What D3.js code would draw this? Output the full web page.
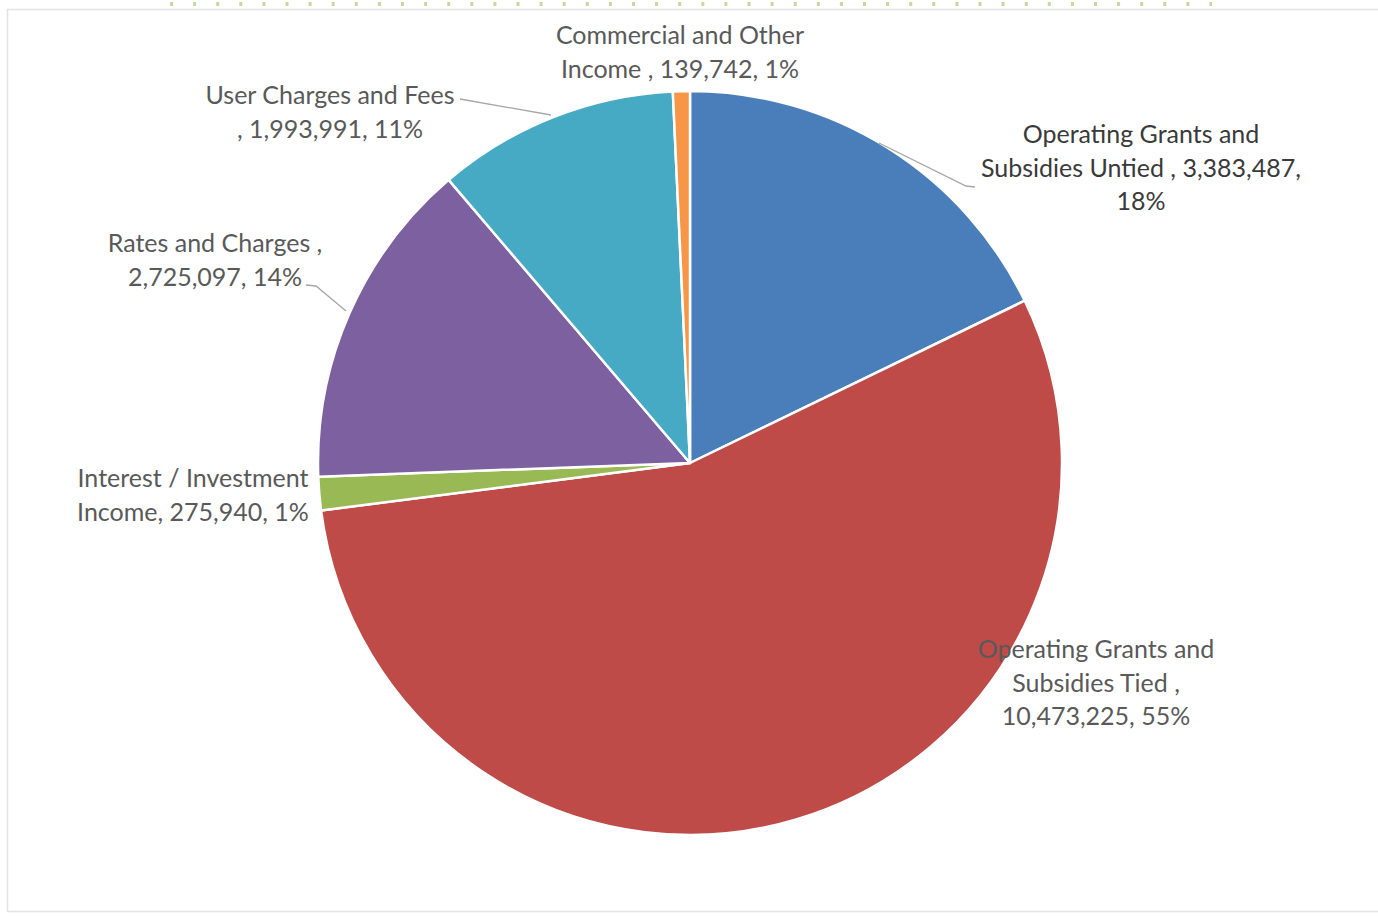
<!DOCTYPE html>
<html><head><meta charset="utf-8">
<script src="https://cdn.jsdelivr.net/npm/d3@7"></script>
<style>
html,body{margin:0;padding:0;background:#fff;}
svg{display:block;}
</style></head>
<body>
<svg id="chart" width="1378" height="916"></svg>
<script>
// ---- data ----
const categories = [
  "Operating Grants and Subsidies Untied",
  "Operating Grants and Subsidies Tied",
  "Interest / Investment Income",
  "Rates and Charges",
  "User Charges and Fees",
  "Commercial and Other Income"
];
const values = [3383487, 10473225, 275940, 2725097, 1993991, 139742];
const percentLabels = ["18%", "55%", "1%", "14%", "11%", "1%"];
const labelLines = [
  ["Operating Grants and", "Subsidies Untied , 3,383,487,", "18%"],
  ["Operating Grants and", "Subsidies Tied ,", "10,473,225, 55%"],
  ["Interest / Investment", "Income, 275,940, 1%"],
  ["Rates and Charges ,", "2,725,097, 14%"],
  ["User Charges and Fees", ", 1,993,991, 11%"],
  ["Commercial and Other", "Income , 139,742, 1%"]
];
const colors = ["#4A7EBB", "#BE4B48", "#98B954", "#7D60A0", "#46AAC5", "#F79646"];

// ---- layout ----
const svg = d3.select("#chart");
const cx = 690, cy = 463, R = 372;
const fontSize = 25, lineH = 33.5;

// frame
svg.append("rect").attr("x", 7.5).attr("y", 9.5).attr("width", 1400).attr("height", 902)
  .attr("fill", "none").attr("stroke", "#e3e3e3").attr("stroke-width", 1.5);
// dotted decoration line at top
svg.append("line").attr("x1", 170).attr("x2", 1212).attr("y1", 4).attr("y2", 4)
  .attr("stroke", "#c9d99a").attr("stroke-width", 4).attr("stroke-dasharray", "3 20.1");

const pie = d3.pie().sort(null).value(d => d)(values);
const arc = d3.arc().innerRadius(0).outerRadius(R);
const g = svg.append("g").attr("transform", `translate(${cx},${cy})`);
g.selectAll("path").data(pie).join("path")
  .attr("d", arc)
  .attr("fill", (d, i) => colors[i])
  .attr("stroke", "#fff").attr("stroke-width", 2.5).attr("stroke-linejoin", "round");

// label anchors (text centre x, first baseline y) and leader lines
const labelPos = [
  {x: 1141, y: 143, color: "#3a3a3a"},
  {x: 1096, y: 658, color: "#595959"},
  {x: 193,  y: 487, color: "#595959"},
  {x: 215,  y: 252, color: "#595959"},
  {x: 330,  y: 104, color: "#595959"},
  {x: 680,  y: 44,  color: "#595959"}
];
const leaders = [
  [[879, 143], [966, 186], [975, 187]],
  null,
  null,
  [[306, 285], [316, 286], [346, 311]],
  [[460, 99], [551, 115]],
  null
];
const line = d3.line();
leaders.forEach(pts => {
  if (!pts) return;
  svg.append("path").attr("d", line(pts)).attr("fill", "none")
    .attr("stroke", "#a6a6a6").attr("stroke-width", 1.3);
});

labelLines.forEach((lines, i) => {
  const p = labelPos[i];
  const t = svg.append("text")
    .attr("text-anchor", "middle")
    .attr("font-family", "Lato, 'Open Sans', sans-serif")
    .attr("font-size", fontSize)
    .attr("fill", p.color);
  lines.forEach((s, k) => {
    t.append("tspan").attr("x", p.x).attr("y", p.y + k * lineH).text(s);
  });
});
</script>
</body></html>
